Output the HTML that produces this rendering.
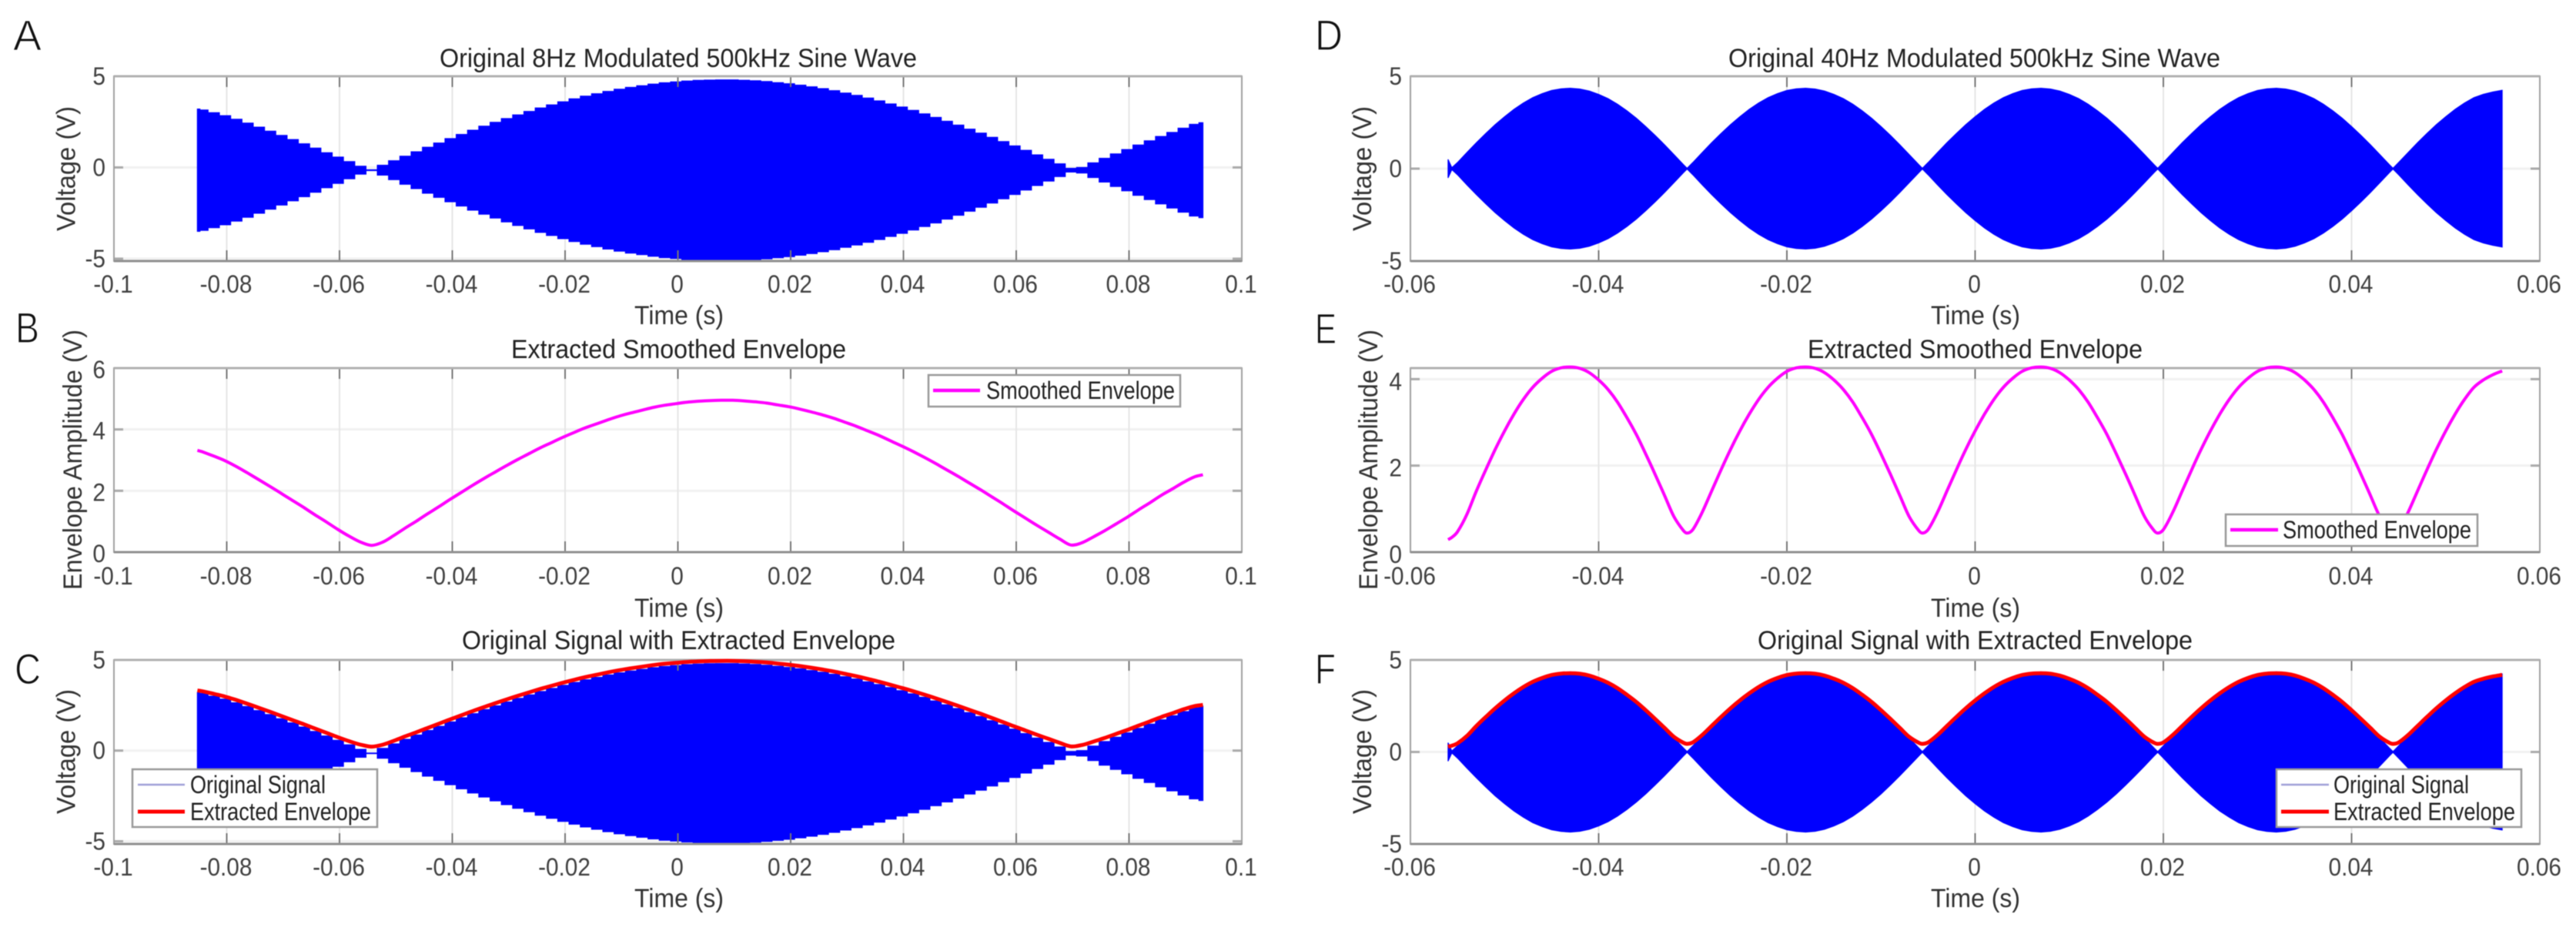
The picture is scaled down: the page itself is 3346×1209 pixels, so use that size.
<!DOCTYPE html>
<html lang="en">
<head>
<meta charset="utf-8">
<title>Modulated Sine Wave Envelope Extraction</title>
<style>
html,body{margin:0;padding:0;background:#fff;width:3346px;height:1209px;overflow:hidden}
svg{display:block;filter:blur(0.6px)}
text{font-family:"Liberation Sans",Arial,sans-serif;fill:#333}
.title{font-size:34px;fill:#222}
.axl{font-size:34px;fill:#333}
.leg{font-size:32px;fill:#222}
.tick{font-size:32px;fill:#404040}
.letter{font-size:56px;fill:#111;stroke:#fff;stroke-width:1.2px;paint-order:normal}
</style>
</head>
<body>
<svg id="figure" xmlns="http://www.w3.org/2000/svg" width="3346" height="1209" viewBox="0 0 3346 1209">
<rect width="3346" height="1209" fill="#fff"/>

<text class="letter" x="17" y="65" textLength="37" lengthAdjust="spacingAndGlyphs">A</text>
<text class="letter" x="20" y="445" textLength="31" lengthAdjust="spacingAndGlyphs">B</text>
<text class="letter" x="19" y="888" textLength="34" lengthAdjust="spacingAndGlyphs">C</text>
<text class="letter" x="1708" y="65" textLength="36" lengthAdjust="spacingAndGlyphs">D</text>
<text class="letter" x="1708" y="446" textLength="28" lengthAdjust="spacingAndGlyphs">E</text>
<text class="letter" x="1708" y="888" textLength="27" lengthAdjust="spacingAndGlyphs">F</text>

<g id="panel-a"></g>
<g id="panel-b"></g>
<g id="panel-c"></g>
<g id="panel-d"></g>
<g id="panel-e"></g>
<g id="panel-f"></g>

<text class="title" x="571" y="87" textLength="620" lengthAdjust="spacingAndGlyphs">Original 8Hz Modulated 500kHz Sine Wave</text>
<text class="title" x="664" y="465" textLength="435" lengthAdjust="spacingAndGlyphs">Extracted Smoothed Envelope</text>
<text class="title" x="600" y="843" textLength="563" lengthAdjust="spacingAndGlyphs">Original Signal with Extracted Envelope</text>
<text class="title" x="2245" y="87" textLength="639" lengthAdjust="spacingAndGlyphs">Original 40Hz Modulated 500kHz Sine Wave</text>
<text class="title" x="2348" y="465" textLength="435" lengthAdjust="spacingAndGlyphs">Extracted Smoothed Envelope</text>
<text class="title" x="2283" y="843" textLength="565" lengthAdjust="spacingAndGlyphs">Original Signal with Extracted Envelope</text>

<text class="axl" x="824" y="421" textLength="116" lengthAdjust="spacingAndGlyphs">Time (s)</text>
<text class="axl" x="824" y="801" textLength="116" lengthAdjust="spacingAndGlyphs">Time (s)</text>
<text class="axl" x="824" y="1178" textLength="116" lengthAdjust="spacingAndGlyphs">Time (s)</text>
<text class="axl" x="2508" y="421" textLength="116" lengthAdjust="spacingAndGlyphs">Time (s)</text>
<text class="axl" x="2508" y="801" textLength="116" lengthAdjust="spacingAndGlyphs">Time (s)</text>
<text class="axl" x="2508" y="1178" textLength="116" lengthAdjust="spacingAndGlyphs">Time (s)</text>

<text class="axl" transform="translate(97.5,300) rotate(-90)" textLength="162" lengthAdjust="spacingAndGlyphs">Voltage (V)</text>
<text class="axl" transform="translate(106,766) rotate(-90)" textLength="338" lengthAdjust="spacingAndGlyphs">Envelope Amplitude (V)</text>
<text class="axl" transform="translate(97.5,1057) rotate(-90)" textLength="162" lengthAdjust="spacingAndGlyphs">Voltage (V)</text>
<text class="axl" transform="translate(1781,300) rotate(-90)" textLength="162" lengthAdjust="spacingAndGlyphs">Voltage (V)</text>
<text class="axl" transform="translate(1789,766) rotate(-90)" textLength="338" lengthAdjust="spacingAndGlyphs">Envelope Amplitude (V)</text>
<text class="axl" transform="translate(1781,1057) rotate(-90)" textLength="162" lengthAdjust="spacingAndGlyphs">Voltage (V)</text>

<g>
  <rect x="1206" y="487" width="327" height="41" fill="#fff" stroke="#999" stroke-width="2.5"/>
  <line x1="1212" x2="1273" y1="507" y2="507" stroke="#f0f" stroke-width="4.5"/>
  <text class="leg" x="1281" y="518" textLength="245" lengthAdjust="spacingAndGlyphs">Smoothed Envelope</text>
</g>
<g>
  <rect x="2891" y="668" width="327" height="41" fill="#fff" stroke="#999" stroke-width="2.5"/>
  <line x1="2897" x2="2959" y1="688" y2="688" stroke="#f0f" stroke-width="4.5"/>
  <text class="leg" x="2965" y="699" textLength="245" lengthAdjust="spacingAndGlyphs">Smoothed Envelope</text>
</g>
<g>
  <rect x="172" y="999" width="318" height="75" fill="#fff" stroke="#999" stroke-width="2.5"/>
  <line x1="179" x2="240" y1="1019" y2="1019" stroke="#a0a0d8" stroke-width="2.5"/>
  <text class="leg" x="247" y="1030" textLength="176" lengthAdjust="spacingAndGlyphs">Original Signal</text>
  <line x1="179" x2="240" y1="1054" y2="1054" stroke="#f00" stroke-width="5"/>
  <text class="leg" x="247" y="1065" textLength="235" lengthAdjust="spacingAndGlyphs">Extracted Envelope</text>
</g>
<g>
  <rect x="2957" y="999" width="318" height="75" fill="#fff" stroke="#999" stroke-width="2.5"/>
  <line x1="2963" x2="3025" y1="1019" y2="1019" stroke="#a0a0d8" stroke-width="2.5"/>
  <text class="leg" x="3031" y="1030" textLength="176" lengthAdjust="spacingAndGlyphs">Original Signal</text>
  <line x1="2963" x2="3025" y1="1054" y2="1054" stroke="#f00" stroke-width="5"/>
  <text class="leg" x="3031" y="1065" textLength="236" lengthAdjust="spacingAndGlyphs">Extracted Envelope</text>
</g>
</svg>

<script>
/* ---- data ---- */
const timeSlow = [-0.0852,-0.0843,-0.0823,-0.0803,-0.0783,-0.0763,-0.0743,-0.0723,-0.0703,-0.0683,-0.0663,-0.0643,-0.0623,-0.0603,-0.0583,-0.0563,-0.0543,-0.0523,-0.0503,-0.0483,-0.0463,-0.0443,-0.0423,-0.0403,-0.0383,-0.0363,-0.0343,-0.0323,-0.0303,-0.0283,-0.0263,-0.0243,-0.0223,-0.0203,-0.0183,-0.0163,-0.0143,-0.0123,-0.0103,-0.0083,-0.0063,-0.0043,-0.0023,-0.0003,0.0017,0.0037,0.0057,0.0077,0.0097,0.0117,0.0137,0.0157,0.0177,0.0197,0.0217,0.0237,0.0257,0.0277,0.0297,0.0317,0.0337,0.0357,0.0377,0.0397,0.0417,0.0437,0.0457,0.0477,0.0497,0.0517,0.0537,0.0557,0.0577,0.0597,0.0617,0.0637,0.0657,0.0677,0.0697,0.0717,0.0737,0.0757,0.0777,0.0797,0.0817,0.0837,0.0857,0.0877,0.0897,0.0917,0.0931];
const carrierSlow = [3.35,3.30,3.15,2.99,2.79,2.58,2.36,2.14,1.91,1.68,1.45,1.21,0.96,0.72,0.47,0.22,0.02,0.27,0.52,0.77,1.01,1.26,1.49,1.73,1.96,2.19,2.41,2.62,2.83,3.03,3.22,3.41,3.58,3.75,3.91,4.06,4.19,4.32,4.44,4.54,4.63,4.72,4.79,4.84,4.89,4.92,4.94,4.95,4.95,4.93,4.90,4.86,4.80,4.74,4.66,4.57,4.47,4.36,4.23,4.10,3.95,3.80,3.63,3.46,3.28,3.09,2.89,2.68,2.47,2.25,2.03,1.80,1.57,1.33,1.09,0.84,0.60,0.35,0.10,0.15,0.40,0.65,0.89,1.13,1.38,1.61,1.85,2.07,2.30,2.51,2.60];
const smoothSlow = [3.32,3.27,3.13,2.98,2.79,2.58,2.36,2.14,1.91,1.68,1.45,1.21,0.98,0.74,0.52,0.33,0.22,0.33,0.55,0.79,1.02,1.26,1.49,1.73,1.96,2.19,2.41,2.62,2.83,3.03,3.22,3.41,3.58,3.75,3.91,4.06,4.19,4.32,4.44,4.54,4.63,4.72,4.79,4.84,4.89,4.92,4.94,4.95,4.95,4.93,4.90,4.86,4.80,4.74,4.66,4.57,4.47,4.36,4.23,4.10,3.95,3.80,3.63,3.46,3.28,3.09,2.89,2.68,2.47,2.25,2.03,1.80,1.57,1.33,1.10,0.87,0.65,0.43,0.23,0.31,0.50,0.70,0.92,1.14,1.38,1.61,1.85,2.06,2.28,2.46,2.52];
const offsetSlow = -0.15;

const timeFast = [-0.056,-0.0556,-0.055,-0.054,-0.053,-0.052,-0.051,-0.05,-0.049,-0.048,-0.047,-0.046,-0.045,-0.044,-0.043,-0.042,-0.041,-0.04,-0.039,-0.038,-0.037,-0.036,-0.035,-0.034,-0.033,-0.032,-0.031,-0.0306,-0.03,-0.029,-0.028,-0.027,-0.026,-0.025,-0.024,-0.023,-0.022,-0.021,-0.02,-0.019,-0.018,-0.017,-0.016,-0.015,-0.014,-0.013,-0.012,-0.011,-0.01,-0.009,-0.008,-0.007,-0.006,-0.0056,-0.005,-0.004,-0.003,-0.002,-0.001,0,0.001,0.002,0.003,0.004,0.005,0.006,0.007,0.008,0.009,0.01,0.011,0.012,0.013,0.014,0.015,0.016,0.017,0.018,0.019,0.0194,0.02,0.021,0.022,0.023,0.024,0.025,0.026,0.027,0.028,0.029,0.03,0.031,0.032,0.033,0.034,0.035,0.036,0.037,0.038,0.039,0.04,0.041,0.042,0.043,0.044,0.0444,0.045,0.046,0.047,0.048,0.049,0.05,0.051,0.052,0.053,0.054,0.055,0.056];
const carrierFast = [0.5,0.05,0.33,0.87,1.40,1.90,2.38,2.81,3.21,3.55,3.84,4.06,4.23,4.32,4.35,4.31,4.20,4.02,3.79,3.49,3.13,2.73,2.28,1.80,1.29,0.76,0.22,0.02,0.33,0.87,1.40,1.90,2.38,2.81,3.21,3.55,3.84,4.06,4.23,4.32,4.35,4.31,4.20,4.02,3.79,3.49,3.13,2.73,2.28,1.80,1.29,0.76,0.22,0.02,0.33,0.87,1.40,1.90,2.38,2.81,3.21,3.55,3.84,4.06,4.23,4.32,4.35,4.31,4.20,4.02,3.79,3.49,3.13,2.73,2.28,1.80,1.29,0.76,0.22,0.02,0.33,0.87,1.40,1.90,2.38,2.81,3.21,3.55,3.84,4.06,4.23,4.32,4.35,4.31,4.20,4.02,3.79,3.49,3.13,2.73,2.28,1.80,1.29,0.76,0.22,0.02,0.33,0.87,1.40,1.90,2.38,2.81,3.21,3.55,3.84,4.02,4.15,4.24];
const smoothFast = [0.29,0.34,0.47,0.87,1.41,1.90,2.37,2.80,3.19,3.53,3.81,4.02,4.18,4.26,4.28,4.25,4.15,3.98,3.76,3.47,3.11,2.72,2.27,1.80,1.31,0.82,0.50,0.44,0.52,0.92,1.41,1.90,2.37,2.80,3.19,3.53,3.81,4.02,4.18,4.26,4.28,4.25,4.15,3.98,3.76,3.47,3.11,2.72,2.27,1.80,1.31,0.82,0.50,0.44,0.52,0.92,1.41,1.90,2.37,2.80,3.19,3.53,3.81,4.02,4.18,4.26,4.28,4.25,4.15,3.98,3.76,3.47,3.11,2.72,2.27,1.80,1.31,0.82,0.50,0.44,0.52,0.92,1.41,1.90,2.37,2.80,3.19,3.53,3.81,4.02,4.18,4.26,4.28,4.25,4.15,3.98,3.76,3.47,3.11,2.72,2.27,1.80,1.31,0.82,0.50,0.44,0.52,0.92,1.41,1.90,2.37,2.80,3.19,3.53,3.81,3.98,4.10,4.19];
const offsetFast = 0;

const xTicksSlow = [-0.1,-0.08,-0.06,-0.04,-0.02,0,0.02,0.04,0.06,0.08,0.1];
const xTickLabelsSlow = ["-0.1","-0.08","-0.06","-0.04","-0.02","0","0.02","0.04","0.06","0.08","0.1"];
const xTicksFast = [-0.06,-0.04,-0.02,0,0.02,0.04,0.06];
const xTickLabelsFast = ["-0.06","-0.04","-0.02","0","0.02","0.04","0.06"];
const yTicksVoltage = [-5,0,5];
const yTickLabelsVoltage = ["-5","0","5"];
const yTicksEnvSlow = [0,2,4,6];
const yTickLabelsEnvSlow = ["0","2","4","6"];
const yTicksEnvFast = [0,2,4];
const yTickLabelsEnvFast = ["0","2","4"];

/* ---- helpers ---- */
const NS = "http://www.w3.org/2000/svg";
function mk(parent, tag, attrs, txt) {
  const el = document.createElementNS(NS, tag);
  for (const k in attrs) el.setAttribute(k, attrs[k]);
  if (txt !== undefined) el.textContent = txt;
  parent.appendChild(el);
  return el;
}
function scale(d0, d1, r0, r1) {
  return v => r0 + (v - d0) * (r1 - r0) / (d1 - d0);
}
function narrow(label) {
  const w = label.getComputedTextLength();
  if (w > 0) {
    label.setAttribute("textLength", (w * 0.93).toFixed(1));
    label.setAttribute("lengthAdjust", "spacingAndGlyphs");
  }
}

function drawAxes(cfg) {
  const g = document.getElementById(cfg.id);
  const x = scale(cfg.xlim[0], cfg.xlim[1], cfg.left, cfg.right);
  const y = scale(cfg.ylim[0], cfg.ylim[1], cfg.bottom, cfg.top);

  cfg.yTicks.forEach(v => {
    const gl = mk(g, "line", {x1: cfg.left, x2: cfg.right, y1: y(v), y2: y(v), stroke: "#f1f1f1", "stroke-width": 3});
    
    
  });
  cfg.xTicks.forEach(v => {
    const gl = mk(g, "line", {x1: x(v), x2: x(v), y1: cfg.top, y2: cfg.bottom, stroke: "#e6e6e6", "stroke-width": 2});
    
    
  });
  return {g, x, y};
}

function drawFrame(cfg, ctx) {
  const {g, x, y} = ctx;
  cfg.xTicks.forEach((v, i) => {
    [[cfg.bottom, cfg.bottom - 14], [cfg.top, cfg.top + 14]].forEach(p => {
      const t = mk(g, "line", {x1: x(v), x2: x(v), y1: p[0], y2: p[1], stroke: "#777", "stroke-width": 2});
      
      
    });
    const lab = mk(g, "text", {class: "tick", x: x(v) - 1, y: cfg.xLabelY, "text-anchor": "middle"}, cfg.xLabels[i]);
    
    
    narrow(lab);
  });
  cfg.yTicks.forEach((v, i) => {
    [[cfg.left, cfg.left + 12], [cfg.right, cfg.right - 12]].forEach(p => {
      const t = mk(g, "line", {x1: p[0], x2: p[1], y1: y(v), y2: y(v), stroke: "#aaa", "stroke-width": 3});
      
      
    });
    const lab = mk(g, "text", {class: "tick", x: cfg.left - 11, y: y(v) + cfg.yLabelDy, "text-anchor": "end"}, cfg.yLabels[i]);
    
    
    narrow(lab);
  });
  const box = mk(g, "rect", {x: cfg.left, y: cfg.top, width: cfg.right - cfg.left, height: cfg.bottom - cfg.top, fill: "none", stroke: "#a0a0a0", "stroke-width": 2});
  
  
  const topEdge = mk(g, "line", {x1: cfg.left, x2: cfg.right, y1: cfg.top, y2: cfg.top, stroke: "#b0b0b0", "stroke-width": 3});
  
  
  const botEdge = mk(g, "line", {x1: cfg.left, x2: cfg.right, y1: cfg.bottom, y2: cfg.bottom, stroke: "#909090", "stroke-width": 3});
  
  
}

function drawCarrier(ctx, times, amps, offset, stepped) {
  const {g, x, y} = ctx;
  const upper = [], lower = [];
  times.forEach((t, i) => {
    if (stepped) {
      const a = i === 0 ? t : (times[i - 1] + t) / 2;
      const b = i === times.length - 1 ? t : (times[i + 1] + t) / 2;
      upper.push([x(a), y(offset + amps[i])], [x(b), y(offset + amps[i])]);
      lower.push([x(a), y(offset - amps[i])], [x(b), y(offset - amps[i])]);
    } else {
      upper.push([x(t), y(offset + amps[i])]);
      lower.push([x(t), y(offset - amps[i])]);
    }
  });
  const pts = upper.concat(lower.reverse()).map(p => p[0].toFixed(1) + "," + p[1].toFixed(1)).join(" ");
  const poly = mk(g, "polygon", {points: pts, fill: "#0000ff", stroke: "#0000ff", "stroke-width": 1.2, "stroke-linejoin": "miter"});
  
  
}

function drawEnvelope(ctx, times, values, color, width, name) {
  const {g, x, y} = ctx;
  const p = times.map((t, i) => [x(t), y(values[i])]);
  let d = "M" + p[0][0].toFixed(1) + " " + p[0][1].toFixed(1);
  for (let i = 0; i < p.length - 1; i++) {
    const p0 = p[Math.max(i - 1, 0)], p1 = p[i], p2 = p[i + 1], p3 = p[Math.min(i + 2, p.length - 1)];
    const segLen = p2[0] - p1[0];
    const m1 = (p2[1] - p0[1]) / Math.max(p2[0] - p0[0], 0.01);
    const m2 = (p3[1] - p1[1]) / Math.max(p3[0] - p1[0], 0.01);
    d += " C" + (p1[0] + segLen / 3).toFixed(1) + " " + (p1[1] + m1 * segLen / 3).toFixed(1) + " " +
         (p2[0] - segLen / 3).toFixed(1) + " " + (p2[1] - m2 * segLen / 3).toFixed(1) + " " +
         p2[0].toFixed(1) + " " + p2[1].toFixed(1);
  }
  const line = mk(g, "path", {d: d, fill: "none", stroke: color, "stroke-width": width, "stroke-linejoin": "round"});
  
  
}

/* ---- layout ---- */
const slowX = {left: 148, right: 1613, xlim: [-0.1, 0.1], xTicks: xTicksSlow, xLabels: xTickLabelsSlow};
const fastX = {left: 1832, right: 3299, xlim: [-0.06, 0.06], xTicks: xTicksFast, xLabels: xTickLabelsFast};
const row1 = {top: 99, bottom: 339, xLabelY: 380};
const row2 = {top: 478, bottom: 717, xLabelY: 759};
const row3 = {top: 857, bottom: 1096, xLabelY: 1137};

const voltage = {yTicks: yTicksVoltage, yLabels: yTickLabelsVoltage};

const cfgA = Object.assign({id: "panel-a", ylim: [-5.13, 5], yLabelDy: 11}, slowX, row1, voltage);
const cfgB = Object.assign({id: "panel-b", ylim: [0, 6], yLabelDy: 13, yTicks: yTicksEnvSlow, yLabels: yTickLabelsEnvSlow}, slowX, row2);
const cfgC = Object.assign({id: "panel-c", ylim: [-5.15, 5], yLabelDy: 11}, slowX, row3, voltage);
const cfgD = Object.assign({id: "panel-d", ylim: [-5, 5], yLabelDy: 11}, fastX, row1, voltage);
const cfgE = Object.assign({id: "panel-e", ylim: [0, 4.255], yLabelDy: 14, yTicks: yTicksEnvFast, yLabels: yTickLabelsEnvFast}, fastX, row2);
const cfgF = Object.assign({id: "panel-f", ylim: [-5, 5], yLabelDy: 11}, fastX, row3, voltage);

let c;
c = drawAxes(cfgA);
drawCarrier(c, timeSlow, carrierSlow, offsetSlow, true);
drawFrame(cfgA, c);

c = drawAxes(cfgB);
drawFrame(cfgB, c);
drawEnvelope(c, timeSlow, smoothSlow, "#ff00ff", 4, "smoothed-envelope");

c = drawAxes(cfgC);
drawCarrier(c, timeSlow, carrierSlow, offsetSlow, true);
drawFrame(cfgC, c);
drawEnvelope(c, timeSlow, smoothSlow, "#ff0000", 5, "extracted-envelope");

c = drawAxes(cfgD);
drawCarrier(c, timeFast, carrierFast, offsetFast, false);
drawFrame(cfgD, c);

c = drawAxes(cfgE);
drawFrame(cfgE, c);
drawEnvelope(c, timeFast, smoothFast, "#ff00ff", 4, "smoothed-envelope");

c = drawAxes(cfgF);
drawCarrier(c, timeFast, carrierFast, offsetFast, false);
drawFrame(cfgF, c);
drawEnvelope(c, timeFast, smoothFast, "#ff0000", 5, "extracted-envelope");
</script>
</body>
</html>
